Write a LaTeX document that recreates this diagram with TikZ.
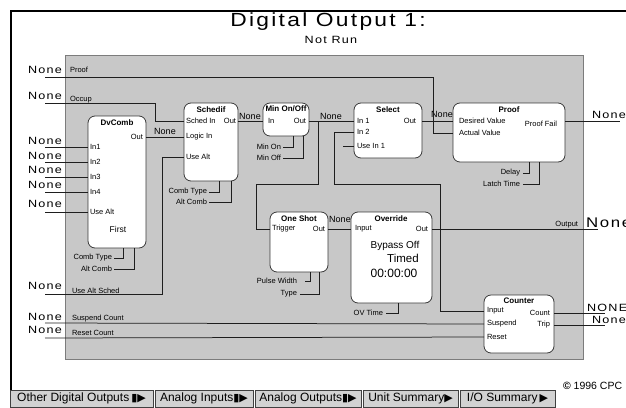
\documentclass[tikz,border=0pt]{standalone}
\usepackage{fontspec}
\setmainfont{Liberation Sans}
\newfontfamily\widesans[FakeStretch=1.2,LetterSpace=12]{Liberation Sans}
\newfontfamily\symsans{DejaVu Sans}
\usetikzlibrary{positioning}
\definecolor{cpcPanel}{HTML}{C8C8C8}
\definecolor{cpcEdge}{HTML}{7C7C7C}
\definecolor{cpcBox}{HTML}{3A3A3A}
\definecolor{cpcWire}{HTML}{1E1E1E}
\definecolor{cpcButton}{HTML}{D2D2D2}
\definecolor{cpcBtnEdge}{HTML}{404040}

\begin{document}
\begin{tikzpicture}[x=1pt,y=-1pt,
    every node/.style={font=\fontsize{7.5}{9}\selectfont, inner sep=0pt, outer sep=0pt},
    blk/.style={draw=cpcBox, fill=white, line width=0.8pt, rounded corners=7pt, anchor=north west},
    ttl/.style={font=\bfseries\fontsize{8}{9}\selectfont},
    wire/.style={draw=cpcWire, line width=0.75pt},
    nonelbl/.style={font=\widesans\fontsize{10.5}{12}\selectfont, anchor=base east},
    val/.style={font=\fontsize{9}{10}\selectfont, anchor=base},
    btn/.style={draw=cpcBtnEdge, fill=cpcButton, line width=0.8pt, anchor=north west, minimum height=17pt, inner xsep=2pt, font=\fontsize{12}{14}\selectfont}]
    \useasboundingbox (0,0) rectangle (626,407);
    \draw[line width=2.6pt] (11,390) -- (11,11) -- (630,11);
    \node[font=\widesans\fontsize{19}{22}\selectfont] (title) at (328,22) {Digital Output 1:};
    \node[font=\widesans\fontsize{10.5}{12}\selectfont] (status) at (331,40) {Not Run};
    \draw[draw=cpcEdge, fill=cpcPanel, line width=0.9pt] (65,55) rectangle (583,359);

    % blocks
    \node[blk, minimum width=58pt, minimum height=132pt] (dvcomb) at (88,116) {};
    \node[blk, minimum width=54pt, minimum height=78pt] (schedif) at (184,103) {};
    \node[blk, minimum width=46pt, minimum height=33pt] (minonoff) at (263,103) {};
    \node[blk, minimum width=68pt, minimum height=55pt] (select) at (354,103) {};
    \node[blk, minimum width=112pt, minimum height=59pt] (proof) at (453,103) {};
    \node[blk, minimum width=58pt, minimum height=60pt] (oneshot) at (270,212) {};
    \node[blk, minimum width=81pt, minimum height=91pt] (override) at (351,212) {};
    \node[blk, minimum width=70pt, minimum height=58pt] (counter) at (484,295) {};

    % block texts
    \node[ttl] (dcTitle) at (117,123) {DvComb};
    \node[anchor=east] (dcOut) at (143,137) {Out};
    \node[anchor=west] (dcIn1) at (90,147) {In1};
    \node[anchor=west] (dcIn2) at (90,162) {In2};
    \node[anchor=west] (dcIn3) at (90,177) {In3};
    \node[anchor=west] (dcIn4) at (90,192) {In4};
    \node[anchor=west] (dcUseAlt) at (90,212) {Use Alt};
    \node[font=\fontsize{8.5}{10}\selectfont] (dcFirst) at (118,229) {First};
    \node[anchor=east] (dcCombType) at (112,258) {Comb Type};
    \node[anchor=east] (dcAltComb) at (112,269) {Alt Comb};

    \node[ttl] (scTitle) at (211,110) {Schedif};
    \node[anchor=west] (scSched) at (186,121) {Sched In};
    \node[anchor=east] (scOut) at (236,121) {Out};
    \node[anchor=west] (scLogic) at (186,137) {Logic In};
    \node[anchor=west] (scUseAlt) at (186,157) {Use Alt};
    \node[anchor=east] (scCombType) at (207,192) {Comb Type};
    \node[anchor=east] (scAltComb) at (207,202) {Alt Comb};

    \node[ttl] (moTitle) at (286,109) {Min On/Off};
    \node[anchor=west] (moIn) at (268,121) {In};
    \node[anchor=east] (moOut) at (306,121) {Out};
    \node[anchor=east] (moMinOn) at (281,147) {Min On};
    \node[anchor=east] (moMinOff) at (281,158) {Min Off};

    \node[ttl] (seTitle) at (388,110) {Select};
    \node[anchor=west] (seIn1) at (357,121) {In 1};
    \node[anchor=west] (seIn2) at (357,132) {In 2};
    \node[anchor=west] (seUse) at (357,146) {Use In 1};
    \node[anchor=east] (seOut) at (416,121) {Out};

    \node[ttl] (prTitle) at (509,110) {Proof};
    \node[anchor=west] (prDes) at (459,121) {Desired Value};
    \node[anchor=west] (prAct) at (459,133) {Actual Value};
    \node[anchor=east] (prFail) at (557,124) {Proof Fail};
    \node[anchor=east] (prDelay) at (520,173) {Delay};
    \node[anchor=east] (prLatch) at (520,184) {Latch Time};

    \node[ttl] (osTitle) at (299,219) {One Shot};
    \node[anchor=west] (osTrig) at (272,229) {Trigger};
    \node[anchor=east] (osOut) at (325,229) {Out};
    \node[anchor=east] (osPulse) at (297,281) {Pulse Width};
    \node[anchor=east] (osType) at (297,294) {Type};

    \node[ttl] (ovTitle) at (391,219) {Override};
    \node[anchor=west] (ovIn) at (355,229) {Input};
    \node[anchor=east] (ovOut) at (428,229) {Out};
    \node[font=\fontsize{10}{12}\selectfont] (ovBypass) at (395,246) {Bypass Off};
    \node[font=\fontsize{11.5}{13}\selectfont] (ovTimed) at (403,258) {Timed};
    \node[font=\fontsize{12}{14}\selectfont] (ovClock) at (394,273) {00:00:00};
    \node[anchor=east] (ovTime) at (383,313) {OV Time};

    \node[ttl] (ctTitle) at (519,301) {Counter};
    \node[anchor=west] (ctIn) at (487,311) {Input};
    \node[anchor=west] (ctSusp) at (487,324) {Suspend};
    \node[anchor=west] (ctReset) at (487,337) {Reset};
    \node[anchor=east] (ctCount) at (550,313) {Count};
    \node[anchor=east] (ctTrip) at (550,325) {Trip};

    % sources on the left
    \coordinate (srcProof) at (45,77);
    \coordinate (srcOccup) at (45,103);
    \coordinate (srcIn1) at (45,147);
    \coordinate (srcIn2) at (45,162);
    \coordinate (srcIn3) at (45,177);
    \coordinate (srcIn4) at (45,192);
    \coordinate (srcUseAlt) at (45,212);
    \coordinate (srcAltSched) at (45,294);
    \coordinate (srcSuspend) at (45,323);
    \coordinate (srcReset) at (45,338);
    \node[nonelbl] (noneProof) at (62,73) {None};
    \node[nonelbl] (noneOccup) at (62,99) {None};
    \node[nonelbl] (noneIn1) at (62,144) {None};
    \node[nonelbl] (noneIn2) at (62,159) {None};
    \node[nonelbl] (noneIn3) at (62,173) {None};
    \node[nonelbl] (noneIn4) at (62,188) {None};
    \node[nonelbl] (noneUseAlt) at (62,207) {None};
    \node[nonelbl] (noneAltSched) at (62,289) {None};
    \node[nonelbl] (noneSuspend) at (62,320) {None};
    \node[nonelbl] (noneReset) at (62,333) {None};
    \node[anchor=base west] (lblProof) at (70,72) {Proof};
    \node[anchor=base west] (lblOccup) at (70,101) {Occup};
    \node[anchor=base west] (lblAltSched) at (72,293) {Use Alt Sched};
    \node[anchor=base west] (lblSuspend) at (72,320) {Suspend Count};
    \node[anchor=base west] (lblReset) at (72,335) {Reset Count};

    % outputs on the right
    \coordinate (dstFail) at (620,121);
    \coordinate (dstOutput) at (598,229);
    \coordinate (dstCount) at (605,313);
    \coordinate (dstTrip) at (605,325);
    \node[nonelbl, anchor=base west] (valFail) at (592,118) {None};
    \node[anchor=base east] (lblOutput) at (578,226) {Output};
    \node[font=\widesans\fontsize{14}{16}\selectfont, anchor=base west] (valOutput) at (586,227) {None};
    \node[nonelbl, anchor=base west] (valCount) at (587,311) {NONE};
    \node[nonelbl, anchor=base west] (valTrip) at (592,323) {None};

    % values between blocks
    \node[val] (valDv) at (165,134) {None};
    \node[val] (valSc) at (250,119) {None};
    \node[val] (valMo) at (331,119) {None};
    \node[val] (valSe) at (442,117) {None};
    \node[val] (valOs) at (340,222) {None};

    % wires
    \draw[wire] (srcProof) -- (433,77) |- (proof.west |- prAct);
    \draw[wire] (srcOccup) -- (155,103) |- (schedif.west |- scSched);
    \draw[wire] (srcIn1) -- (dvcomb.west |- dcIn1);
    \draw[wire] (srcIn2) -- (dvcomb.west |- dcIn2);
    \draw[wire] (srcIn3) -- (dvcomb.west |- dcIn3);
    \draw[wire] (srcIn4) -- (dvcomb.west |- dcIn4);
    \draw[wire] (srcUseAlt) -- (dvcomb.west |- dcUseAlt);
    \draw[wire] (srcAltSched) -- (162,294) |- (schedif.west |- scUseAlt);
    \draw[wire] (srcSuspend) -- (counter.west |- ctSusp);
    \draw[wire] (srcReset) -- (counter.west |- ctReset);
    \draw[wire] (dvcomb.east |- dcOut) -- (schedif.west |- scLogic);
    \draw[wire] ([xshift=2pt]dcCombType.east) -| ([xshift=6pt]dvcomb.south);
    \draw[wire] ([xshift=2pt]dcAltComb.east) -| ([xshift=17pt]dvcomb.south);
    \draw[wire] (schedif.east |- scOut) -- (minonoff.west |- moIn);
    \draw[wire] ([xshift=2pt]scCombType.east) -| ([xshift=8pt]schedif.south);
    \draw[wire] ([xshift=2pt]scAltComb.east) -| ([xshift=20pt]schedif.south);
    \draw[wire] (minonoff.east |- moOut) -- (select.west |- seIn1);
    \draw[wire] ([xshift=2pt]moMinOn.east) -| ([xshift=7pt]minonoff.south);
    \draw[wire] ([xshift=2pt]moMinOff.east) -| ([xshift=17pt]minonoff.south);
    \coordinate (tapMo) at (318,121);
    \draw[wire] (tapMo) -- (318,184) -| (256,229) -- (oneshot.west |- osTrig);
    \draw[wire] (select.west |- seIn2) -- (334,132) -- (334,184) -- (440,184) |- (counter.west |- ctIn);
    \coordinate (srcUseIn1) at (343,146);
    \draw[wire] (srcUseIn1) -- (select.west |- seUse);
    \draw[wire] (select.east |- seOut) -- (proof.west |- prDes);
    \draw[wire] (proof.east |- dstFail) -- (dstFail);
    \draw[wire] ([xshift=3pt]prDelay.east) -| ([xshift=20pt]proof.south);
    \draw[wire] ([xshift=3pt]prLatch.east) -| ([xshift=30pt]proof.south);
    \draw[wire] (oneshot.east |- osOut) -- (override.west |- ovIn);
    \draw[wire] ([xshift=8pt]osPulse.east) -| ([xshift=11pt]oneshot.south);
    \draw[wire] ([xshift=3pt]osType.east) -| ([xshift=20pt]oneshot.south);
    \draw[wire] (override.east |- ovOut) -- (dstOutput);
    \draw[wire] ([xshift=3pt]ovTime.east) -| ([xshift=7pt]override.south);
    \draw[wire] (counter.east |- dstCount) -- (dstCount);
    \draw[wire] (counter.east |- dstTrip) -- (dstTrip);

    % buttons
    \node[btn, minimum width=143pt] (btnOther) at (10,390) {Other Digital Outputs\,{\symsans\fontsize{11}{12}\selectfont ▮▶}};
    \node[btn, minimum width=98pt] (btnAnIn) at (155,390) {Analog Inputs{\symsans\fontsize{11}{12}\selectfont ▮▶}};
    \node[btn, minimum width=106pt] (btnAnOut) at (255,390) {Analog Outputs{\symsans\fontsize{11}{12}\selectfont ▮▶}};
    \node[btn, minimum width=95pt] (btnUnit) at (363,390) {Unit Summary{\symsans\fontsize{11}{12}\selectfont ▶}};
    \node[btn, minimum width=95pt] (btnIO) at (460,390) {I/O Summary\,{\symsans\fontsize{11}{12}\selectfont ▶}};
    \node[font=\fontsize{10.5}{12}\selectfont, anchor=west] (copyright) at (563,386) {\textbf{©} 1996 CPC};
  \end{tikzpicture}
\end{document}
